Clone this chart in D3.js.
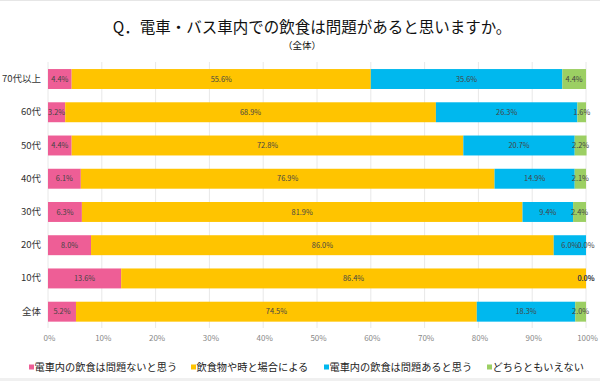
<!DOCTYPE html>
<html><head><meta charset="utf-8">
<script src="https://cdn.jsdelivr.net/npm/d3@7"></script>
<style>
body{margin:0;background:#fff;}
svg{display:block;font-family:"Noto Sans CJK JP","Noto Sans",sans-serif;}
</style></head>
<body><svg id="c" width="600" height="381"></svg>
<script>
const categories = ["70代以上","60代","50代","40代","30代","20代","10代","全体"];
const seriesNames = ["電車内の飲食は問題ないと思う","飲食物や時と場合による","電車内の飲食は問題あると思う","どちらともいえない"];
const notProblem = [4.4, 3.2, 4.4, 6.1, 6.3, 8.0, 13.6, 5.2];
const depends    = [55.6, 68.9, 72.8, 76.9, 81.9, 86.0, 86.4, 74.5];
const problem    = [35.6, 26.3, 20.7, 14.9, 9.4, 6.0, 0.0, 18.3];
const neither    = [4.4, 1.6, 2.2, 2.1, 2.4, 0.0, 0.0, 2.0];
const tickValues = [0,10,20,30,40,50,60,70,80,90,100];
const colors = ["#EE5E96","#FFC400","#00B8EE","#9CCF63"];

const series = [notProblem, depends, problem, neither];
const svg = d3.select("#c");
const x = d3.scaleLinear().domain([0,100]).range([48,586]);
const y = d3.scaleBand().domain(categories).range([62.4,328.3]).paddingInner(0.4).paddingOuter(0.2);

// frame lines
svg.append("line").attr("x1",0).attr("x2",600).attr("y1",0.5).attr("y2",0.5).attr("stroke","#e6e6e6");
svg.append("rect").attr("x",0).attr("y",378).attr("width",600).attr("height",3).attr("fill","#f0f0f0");

// title
svg.append("text").attr("x",312).attr("y",33).attr("text-anchor","middle")
  .attr("font-size",15.5).attr("fill","#111").text("Q．電車・バス車内での飲食は問題があると思いますか。");
svg.append("text").attr("x",302).attr("y",49).attr("text-anchor","middle")
  .attr("font-size",9.5).attr("fill","#111").text("（全体）");

// grid
svg.append("g").selectAll("line").data(tickValues).join("line")
  .attr("x1",d=>x(d)).attr("x2",d=>x(d)).attr("y1",62).attr("y2",328)
  .attr("stroke","#e8e8e8").attr("stroke-width",1);

// x axis labels
const xAxis = d3.axisBottom(x).tickValues(tickValues).tickFormat(d=>d+"%").tickSize(0).tickPadding(0);
const gx = svg.append("g").attr("transform","translate(1,335)").call(xAxis);
gx.select(".domain").remove();
gx.selectAll("text").attr("font-size",8).attr("fill","#888").attr("font-family","'Noto Sans CJK JP',sans-serif");

// y axis labels
const yAxis = d3.axisLeft(y).tickSize(0).tickPadding(0);
const gy = svg.append("g").attr("transform","translate(41,0)").call(yAxis);
gy.select(".domain").remove();
gy.selectAll("text").attr("font-size",9.5).attr("fill","#333").attr("font-family","'Noto Sans CJK JP',sans-serif");

// stacked bars
categories.forEach((cat,i)=>{
  let acc = 0;
  series.forEach((s,k)=>{
    const v = s[i];
    const x0 = acc, x1 = acc + v;
    acc = x1;
    svg.append("rect").attr("x",x(x0)).attr("y",y(cat))
      .attr("width",Math.max(0,x(x1)-x(x0))).attr("height",y.bandwidth())
      .attr("fill",colors[k]);
  });
});
categories.forEach((cat,i)=>{
  let acc = 0;
  series.forEach((s,k)=>{
    const v = s[i];
    const x0 = acc, x1 = acc + v;
    acc = x1;
    svg.append("text").attr("x",x((x0+x1)/2)).attr("y",y(cat)+y.bandwidth()/2)
      .attr("dy","0.35em").attr("text-anchor","middle").attr("font-size",7.4)
      .attr("fill","#444").text(v.toFixed(1)+"%");
  });
});

// legend
const legendX = [29,191,324,487];
seriesNames.forEach((n,k)=>{
  const g = svg.append("g").attr("transform",`translate(${legendX[k]},367)`);
  g.append("rect").attr("x",0).attr("y",-2.5).attr("width",5).attr("height",5).attr("fill",colors[k]);
  g.append("text").attr("x",5.5).attr("y",0).attr("dy","0.35em").attr("font-size",10.2).attr("fill","#222").text(n);
});
</script></body></html>
